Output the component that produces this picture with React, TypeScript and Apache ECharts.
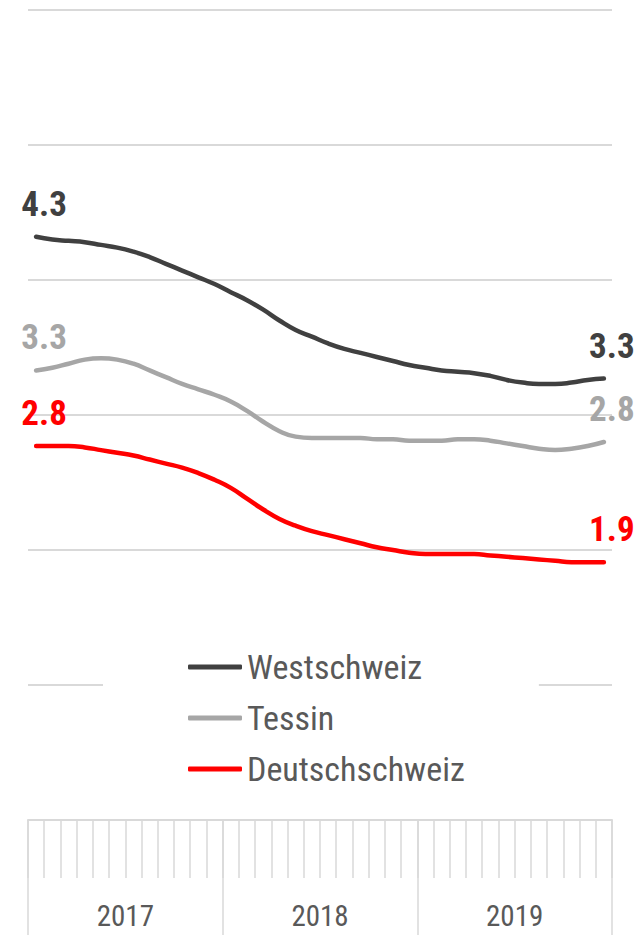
import React, { useEffect, useRef } from "react";
import * as echarts from "echarts";

const months = [
  "Jan 17", "Feb 17", "Mär 17", "Apr 17", "Mai 17", "Jun 17", "Jul 17", "Aug 17", "Sep 17", "Okt 17", "Nov 17", "Dez 17",
  "Jan 18", "Feb 18", "Mär 18", "Apr 18", "Mai 18", "Jun 18", "Jul 18", "Aug 18", "Sep 18", "Okt 18", "Nov 18", "Dez 18",
  "Jan 19", "Feb 19", "Mär 19", "Apr 19", "Mai 19", "Jun 19", "Jul 19", "Aug 19", "Sep 19", "Okt 19", "Nov 19", "Dez 19",
];
const years = ["2017", "2018", "2019"];
const seriesNames = ["Westschweiz", "Tessin", "Deutschschweiz"];

const westschweiz = [
  4.32, 4.30, 4.29, 4.28, 4.26, 4.24, 4.21, 4.17, 4.12, 4.07, 4.02, 3.97,
  3.91, 3.85, 3.78, 3.70, 3.63, 3.58, 3.53, 3.49, 3.46, 3.43, 3.40, 3.37,
  3.35, 3.33, 3.32, 3.31, 3.29, 3.26, 3.24, 3.23, 3.23, 3.24, 3.26, 3.27,
];
const tessin = [
  3.33, 3.35, 3.38, 3.41, 3.42, 3.41, 3.38, 3.33, 3.28, 3.23, 3.19, 3.15,
  3.10, 3.03, 2.95, 2.88, 2.84, 2.83, 2.83, 2.83, 2.83, 2.82, 2.82, 2.81,
  2.81, 2.81, 2.82, 2.82, 2.81, 2.79, 2.77, 2.75, 2.74, 2.75, 2.77, 2.80,
];
const deutschschweiz = [
  2.77, 2.77, 2.77, 2.76, 2.74, 2.72, 2.70, 2.67, 2.64, 2.61, 2.57, 2.52,
  2.46, 2.38, 2.30, 2.23, 2.18, 2.14, 2.11, 2.08, 2.05, 2.02, 2.00, 1.98,
  1.97, 1.97, 1.97, 1.97, 1.96, 1.95, 1.94, 1.93, 1.92, 1.91, 1.91, 1.91,
];
const colors = ["#404040", "#a6a6a6", "#ff0000"];

const FONT = "'Roboto Condensed', 'Liberation Sans Narrow', 'Arial Narrow', 'Liberation Sans', sans-serif";
const GRID = "#d9d9d9";

export default function App() {
  const ref = useRef<HTMLDivElement>(null);
  useEffect(() => {
    if (!ref.current) return;
    const chart = echarts.init(ref.current, undefined, { renderer: "svg" });
    const data = [westschweiz, tessin, deutschschweiz];
    const last = months.length - 1;
    chart.setOption({
      animation: false,
      backgroundColor: "#fff",
      grid: { left: 28, right: 27, top: 10, bottom: 115 },
      legend: {
        orient: "vertical",
        left: 103,
        top: 646,
        icon: "roundRect",
        itemWidth: 54,
        itemHeight: 5,
        itemGap: 17,
        padding: [4, 74, 4, 85],
        backgroundColor: "#fff",
        data: seriesNames,
        textStyle: { fontSize: 34, color: "#595959", fontFamily: FONT },
      },
      xAxis: [
        {
          type: "category",
          data: months,
          position: "bottom",
          boundaryGap: true,
          axisLine: { show: true, lineStyle: { color: GRID, width: 2 } },
          axisTick: { show: true, interval: 0, length: 58, lineStyle: { color: GRID, width: 1.5 } },
          axisLabel: { show: false },
          splitLine: { show: false },
        },
        {
          type: "category",
          data: years,
          position: "bottom",
          boundaryGap: true,
          axisLine: { show: false },
          axisTick: { show: true, interval: 0, length: 115, lineStyle: { color: GRID, width: 1.5 } },
          axisLabel: { show: true, margin: 81, fontSize: 29, color: "#595959", fontFamily: FONT },
          splitLine: { show: false },
        },
      ],
      yAxis: {
        type: "value",
        min: 0,
        max: 6,
        interval: 1,
        axisLine: { show: false },
        axisTick: { show: false },
        axisLabel: { show: false },
        splitLine: { show: true, lineStyle: { color: GRID, width: 2 } },
      },
      series: seriesNames.map((name, i) => ({
        name,
        type: "line",
        xAxisIndex: 0,
        data: data[i],
        smooth: 0.5,
        symbol: "circle",
        symbolSize: 0,
        showSymbol: true,
        color: colors[i],
        itemStyle: { color: colors[i] },
        lineStyle: { color: colors[i], width: 4.5, cap: "round" },
        label: {
          show: true,
          position: "top",
          distance: 15,
          offset: [8, 0],
          color: colors[i],
          fontSize: 35,
          fontWeight: "bold",
          fontFamily: FONT,
          formatter: (p: any) =>
            p.dataIndex === 0 || p.dataIndex === last ? Number(p.value).toFixed(1) : "",
        },
      })),
    });
    return () => chart.dispose();
  }, []);
  return (
    <div
      ref={ref}
      style={{ position: "absolute", left: 0, top: 0, width: 639, height: 935 }}
    />
  );
}
